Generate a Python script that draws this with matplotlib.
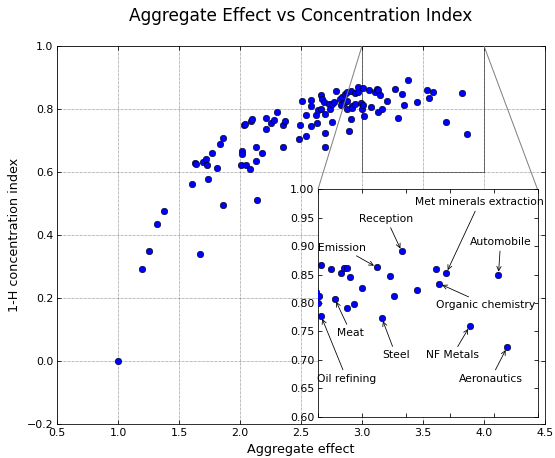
import matplotlib
matplotlib.use("Agg")
import matplotlib.pyplot as plt
from mpl_toolkits.axes_grid1.inset_locator import mark_inset

# aggregate effect (x) and 1-H concentration index (y)
agg_effect = [
    1.00, 1.20, 1.25, 1.32, 1.38, 1.61, 1.63, 1.64, 1.67, 1.70, 1.72, 1.73,
    1.74, 1.77, 1.81, 1.84, 1.86, 1.86, 2.01, 2.02, 2.02, 2.03, 2.04, 2.05,
    2.08, 2.09, 2.10, 2.13, 2.13, 2.14, 2.18, 2.21, 2.21, 2.25, 2.28, 2.30,
    2.35, 2.35, 2.37, 2.48, 2.49, 2.51, 2.54, 2.54, 2.58, 2.58, 2.58, 2.62,
    2.63, 2.64, 2.66, 2.66, 2.67, 2.69, 2.70, 2.70, 2.70, 2.73, 2.74, 2.75,
    2.75, 2.77, 2.79, 2.82, 2.83, 2.85, 2.84, 2.86, 2.88, 2.88, 2.88, 2.89,
    2.91, 2.92, 2.92, 2.91, 2.94, 2.94, 2.97, 2.97, 2.99, 3.00, 3.005,
    3.012, 3.014, 3.058, 3.077, 3.105, 3.119, 3.134, 3.134, 3.146, 3.164,
    3.202, 3.267, 3.291, 3.330, 3.347, 3.381, 3.450, 3.536, 3.553, 3.585,
    3.691, 3.822, 3.861,
]
conc_index = [
    0.000, 0.293, 0.348, 0.434, 0.477, 0.562, 0.629, 0.624, 0.341, 0.633,
    0.641, 0.623, 0.577, 0.659, 0.613, 0.689, 0.708, 0.495, 0.623, 0.666,
    0.656, 0.750, 0.753, 0.623, 0.609, 0.762, 0.768, 0.679, 0.634, 0.511,
    0.660, 0.770, 0.736, 0.756, 0.765, 0.790, 0.748, 0.679, 0.761, 0.704,
    0.750, 0.825, 0.781, 0.713, 0.828, 0.810, 0.747, 0.780, 0.756, 0.797,
    0.845, 0.800, 0.831, 0.823, 0.783, 0.723, 0.680, 0.816, 0.800, 0.817,
    0.759, 0.823, 0.856, 0.831, 0.813, 0.819, 0.839, 0.849, 0.855, 0.824,
    0.799, 0.731, 0.857, 0.810, 0.803, 0.768, 0.852, 0.816, 0.871, 0.854,
    0.820, 0.800, 0.812, 0.867, 0.777, 0.859, 0.807, 0.853, 0.862, 0.861,
    0.791, 0.846, 0.799, 0.826, 0.863, 0.773, 0.848, 0.813, 0.891, 0.822,
    0.860, 0.834, 0.853, 0.759, 0.850, 0.722,
]

# labelled sectors in the zoomed panel
sector_names = ["Met minerals extraction", "Reception", "Emission", "Automobile",
                "Organic chemistry", "Meat", "Steel", "NF Metals",
                "Oil refining", "Aeronautics"]
sector_x = [3.585, 3.381, 3.267, 3.822, 3.553, 3.077, 3.291, 3.691, 3.014, 3.861]
sector_y = [0.853, 0.891, 0.863, 0.850, 0.834, 0.807, 0.773, 0.759, 0.777, 0.722]
label_x = [3.735, 3.312, 3.111, 3.832, 3.765, 3.150, 3.355, 3.613, 3.130, 3.788]
label_y = [0.977, 0.948, 0.897, 0.907, 0.797, 0.747, 0.708, 0.708, 0.667, 0.667]

plt.rcParams['font.family'] = 'DejaVu Sans'
plt.rcParams['font.size'] = 11

W, H = 555, 458
fig = plt.figure(figsize=(W / 72, H / 72), dpi=72)
ax = fig.add_axes([57 / W, (H - 424) / H, 488 / W, 378 / H])

ax.scatter(agg_effect, conc_index, s=42, c='b', edgecolors='k', linewidths=0.6, zorder=3)
ax.set_xlim(0.5, 4.5)
ax.set_ylim(-0.2, 1.0)
ax.set_xticks([0.5, 1.0, 1.5, 2.0, 2.5, 3.0, 3.5, 4.0, 4.5])
ax.set_yticks([-0.2, 0.0, 0.2, 0.4, 0.6, 0.8, 1.0])
ax.grid(True, linestyle=':', color='k', linewidth=0.5)
ax.tick_params(direction='in', top=True, right=True, length=4, labelsize=11)
ax.set_xlabel('Aggregate effect', fontsize=12.7, labelpad=5)
ax.set_ylabel('1-H concentration index', fontsize=12.7, labelpad=6)
ax.set_title('Aggregate Effect vs Concentration Index', fontsize=17, pad=25)

axins = fig.add_axes([318 / W, (H - 416.7) / H, 219.5 / W, 227.4 / H])
axins.scatter(agg_effect, conc_index, s=42, c='b', edgecolors='k', linewidths=0.6, zorder=3)
axins.set_xlim(3.0, 4.0)
axins.set_ylim(0.6, 1.0)
axins.set_xticks([3.0, 3.2, 3.4, 3.6, 3.8, 4.0])
axins.set_xticklabels([])
axins.set_yticks([0.6, 0.65, 0.7, 0.75, 0.8, 0.85, 0.9, 0.95, 1.0])
axins.set_yticklabels(['%.2f' % v for v in axins.get_yticks()])
axins.tick_params(direction='in', top=True, right=True, length=4, labelsize=11)

for name, px, py, tx, ty in zip(sector_names, sector_x, sector_y, label_x, label_y):
    axins.annotate(name, xy=(px, py), xytext=(tx, ty), ha='center', va='center', fontsize=10.7,
                   arrowprops=dict(arrowstyle='->', color='k', lw=0.8, shrinkA=2, shrinkB=3))

mark_inset(ax, axins, loc1=2, loc2=1, fc='none', ec='0.5')

fig.savefig('out.png', dpi=72, facecolor='white')
